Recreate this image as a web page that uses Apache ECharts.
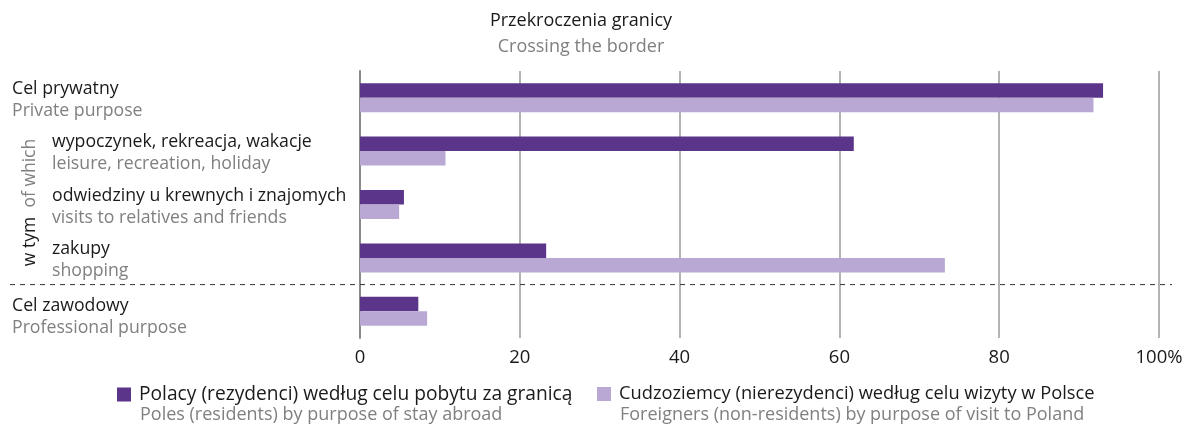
<!DOCTYPE html>
<html>
<head>
<meta charset="utf-8">
<script src="https://cdn.jsdelivr.net/npm/echarts@6/dist/echarts.min.js"></script>
<style>
  html, body { margin: 0; padding: 0; background: #fff; }
  #chart { width: 1188px; height: 427px; }
</style>
</head>
<body>
<div id="chart"></div>
<script>
// category labels, polish + english, and which ones are "w tym" sub-items
var categoriesPl = ['Cel prywatny', 'wypoczynek, rekreacja, wakacje', 'odwiedziny u krewnych i znajomych', 'zakupy', 'Cel zawodowy'];
var categoriesEn = ['Private purpose', 'leisure, recreation, holiday', 'visits to relatives and friends', 'shopping', 'Professional purpose'];
var isSub = [false, true, true, true, false];

var polesValues = [93.0, 61.8, 5.5, 23.3, 7.3];
var foreignValues = [91.8, 10.7, 4.9, 73.2, 8.4];

var seriesNamesPl = ['Polacy (rezydenci) według celu pobytu za granicą', 'Cudzoziemcy (nierezydenci) według celu wizyty w Polsce'];
var seriesNamesEn = ['Poles (residents) by purpose of stay abroad', 'Foreigners (non-residents) by purpose of visit to Poland'];

var FONT = '"Open Sans", sans-serif';
var FS = 17.7;
var DARK = '#5b3589';
var LIGHT = '#b9a8d3';

var myChart = echarts.init(document.getElementById('chart'));

var option = {
  animation: false,
  textStyle: { fontFamily: FONT },
  title: {
    text: 'Przekroczenia granicy',
    subtext: 'Crossing the border',
    left: 576,
    top: 7,
    textAlign: 'center',
    itemGap: 8,
    textStyle: { fontFamily: FONT, fontSize: 18, fontWeight: 'normal', color: '#1a1a1a' },
    subtextStyle: { fontFamily: FONT, fontSize: 18, color: '#808080' }
  },
  legend: [{
    data: [seriesNamesPl[0]],
    left: 117, top: 385, padding: 0,
    icon: 'rect', itemWidth: 14, itemHeight: 14,
    textStyle: { fontFamily: FONT, fontSize: 19.2, color: '#1a1a1a', padding: [0, 0, 0, 3] }
  }, {
    data: [seriesNamesPl[1]],
    left: 597, top: 385, padding: 0,
    icon: 'rect', itemWidth: 14, itemHeight: 14,
    textStyle: { fontFamily: FONT, fontSize: 18.3, color: '#1a1a1a', padding: [0, 0, 0, 3] }
  }],
  grid: { left: 360, right: 29, top: 71, bottom: 89, containLabel: false },
  xAxis: {
    type: 'value',
    min: 0, max: 100, interval: 20,
    axisLine: { show: false },
    axisTick: { show: false },
    splitLine: { lineStyle: { color: '#9a9a9a', width: 1.5 } },
    axisLabel: {
      fontFamily: FONT, fontSize: 18.5, color: '#1a1a1a', margin: 10,
      formatter: function (v) { return v === 100 ? '100%' : v; }
    }
  },
  yAxis: {
    type: 'category',
    inverse: true,
    data: categoriesPl,
    axisLine: { show: true, lineStyle: { color: '#8a8a8a', width: 2 } },
    axisTick: { show: false },
    axisLabel: {
      align: 'left',
      margin: 348,
      padding: [4, 0, 0, 0],
      formatter: function (v, i) {
        if (isSub[i]) return '{c|' + v + '}\n{d|' + categoriesEn[i] + '}';
        if (i === categoriesPl.length - 1) return '{s| }\n{a|' + v + '}\n{b|' + categoriesEn[i] + '}';
        return '{a|' + v + '}\n{b|' + categoriesEn[i] + '}';
      },
      rich: {
        s: { fontSize: 6, lineHeight: 8 },
        a: { fontFamily: FONT, fontSize: FS, color: '#1a1a1a', lineHeight: 22 },
        b: { fontFamily: FONT, fontSize: FS, color: '#808080', lineHeight: 22 },
        c: { fontFamily: FONT, fontSize: FS, color: '#1a1a1a', lineHeight: 22, padding: [0, 0, 0, 40] },
        d: { fontFamily: FONT, fontSize: FS, color: '#808080', lineHeight: 22, padding: [0, 0, 0, 40] }
      }
    }
  },
  series: [{
    name: seriesNamesPl[0],
    type: 'bar',
    data: polesValues,
    barWidth: 14.5,
    barGap: '0%',
    itemStyle: { color: DARK }
  }, {
    name: seriesNamesPl[1],
    type: 'bar',
    data: foreignValues,
    barWidth: 14.5,
    barGap: '0%',
    itemStyle: { color: LIGHT }
  }]
};

myChart.setOption(option);

// separator between the sub-items and "Cel zawodowy", placed through the axis scale
var ySep = (myChart.convertToPixel({ yAxisIndex: 0 }, categoriesPl[3]) +
            myChart.convertToPixel({ yAxisIndex: 0 }, categoriesPl[4])) / 2;
var yTop = myChart.convertToPixel({ yAxisIndex: 0 }, categoriesPl[1]);
var yBot = myChart.convertToPixel({ yAxisIndex: 0 }, categoriesPl[3]);

myChart.setOption({
  graphic: [{
    type: 'line',
    shape: { x1: 10, y1: ySep, x2: 1172, y2: ySep },
    style: { stroke: '#333', lineWidth: 1, lineDash: [5, 5] },
    z: 10
  }, {
    type: 'text',
    x: 30, y: (yTop + yBot) / 2 - 2,
    rotation: Math.PI / 2,
    style: {
      text: '{a|w tym} {b|of which}',
      align: 'center', verticalAlign: 'middle',
      rich: {
        a: { fontFamily: FONT, fontSize: 17.5, fill: '#1a1a1a', padding: [0, 6, 0, 0] },
        b: { fontFamily: FONT, fontSize: 17.5, fill: '#808080' }
      }
    }
  }, {
    type: 'text',
    left: 140, top: 406,
    style: { text: seriesNamesEn[0], font: '18px ' + FONT, fill: '#808080' }
  }, {
    type: 'text',
    left: 620, top: 406,
    style: { text: seriesNamesEn[1], font: '18px ' + FONT, fill: '#808080' }
  }]
});
</script>
</body>
</html>
